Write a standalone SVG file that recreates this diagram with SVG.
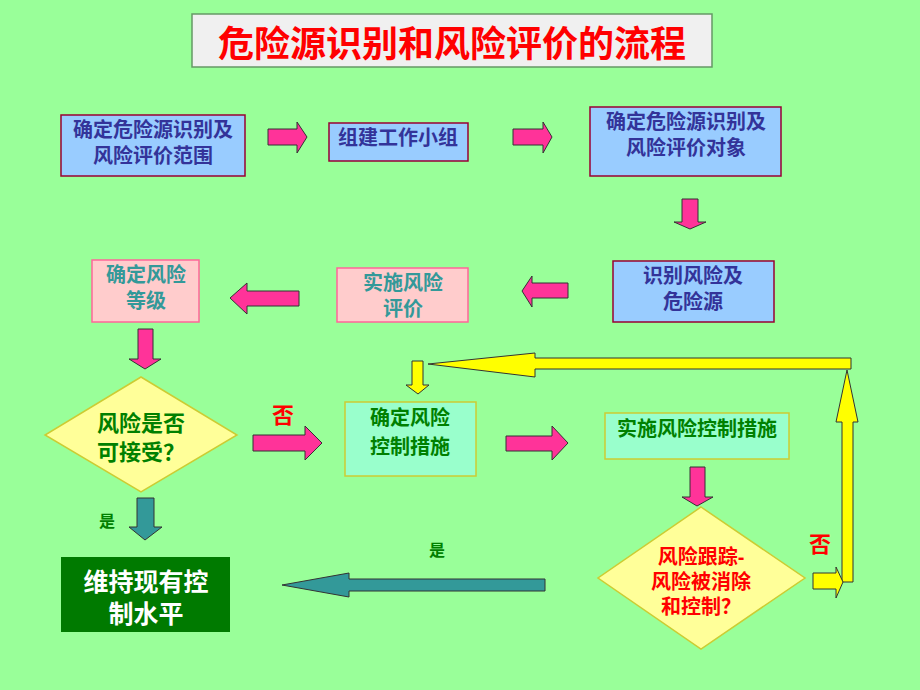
<svg xmlns="http://www.w3.org/2000/svg" width="920" height="690" viewBox="0 0 920 690">
<style>
text{font-family:"Liberation Sans","Noto Sans CJK SC",sans-serif;font-weight:bold;text-anchor:middle;dominant-baseline:central}
.blue{fill:#99ccff;stroke:#990033;stroke-width:1.5}
.pinkbox{fill:#ffcccc;stroke:#ff6699;stroke-width:1.5}
.mint{fill:#99ffcc;stroke:#cccc33;stroke-width:1.5}
.dia{fill:#ffff99;stroke:#cccc33;stroke-width:1.5}
.pa{fill:#ff3399;stroke:#333333;stroke-width:1}
.ya{fill:#ffff00;stroke:#333333;stroke-width:1}
.ta{fill:#339999;stroke:#333333;stroke-width:1}
.tn{fill:#333399;font-size:20px}
.tt{fill:#339999;font-size:20px}
.tg{fill:#008000;font-size:20px}
.tr{fill:#ff0000;font-size:20px}
</style>
<rect x="0" y="0" width="920" height="690" fill="#99ff99"/>
<g id="title">
<rect x="192" y="14" width="520" height="53" fill="#f0f0f0" stroke="#669966" stroke-width="1.5"/>
<text x="452" y="44" style="fill:#ff0000;font-size:36px">危险源识别和风险评价的流程</text>
</g>
<g id="n1"><rect class="blue" x="61" y="115" width="184" height="61"/>
<text class="tn"><tspan x="153" y="130">确定危险源识别及</tspan><tspan x="153" y="156">风险评价范围</tspan></text></g>
<g id="n2"><rect class="blue" x="329" y="123" width="139" height="38"/>
<text class="tn" x="398" y="138">组建工作小组</text></g>
<g id="n3"><rect class="blue" x="590" y="107" width="191" height="69"/>
<text class="tn"><tspan x="686" y="122">确定危险源识别及</tspan><tspan x="686" y="148">风险评价对象</tspan></text></g>
<g id="n4"><rect class="blue" x="613" y="261" width="161" height="61"/>
<text class="tn"><tspan x="693" y="276">识别风险及</tspan><tspan x="693" y="302">危险源</tspan></text></g>
<g id="n5"><rect class="pinkbox" x="337" y="268" width="131" height="54"/>
<text class="tt"><tspan x="403" y="283">实施风险</tspan><tspan x="403" y="309">评价</tspan></text></g>
<g id="n6"><rect class="pinkbox" x="92" y="260" width="107" height="62"/>
<text class="tt"><tspan x="146" y="275">确定风险</tspan><tspan x="146" y="301">等级</tspan></text></g>
<g id="n7"><polygon class="dia" points="141,377 237,435 141,492 45,435"/>
<text class="tg" style="font-size:22px"><tspan x="141" y="423">风险是否</tspan><tspan x="141" y="452">可接受？</tspan></text></g>
<g id="n8"><rect class="mint" x="345" y="402" width="131" height="74"/>
<text class="tg"><tspan x="410" y="418">确定风险</tspan><tspan x="410" y="447">控制措施</tspan></text></g>
<g id="n9"><rect class="mint" x="605" y="413" width="184" height="46"/>
<text class="tg" x="697" y="429">实施风险控制措施</text></g>
<g id="n10"><polygon class="dia" points="701,507 805,578 701,649 598,578"/>
<text class="tr"><tspan x="701" y="557">风险跟踪-</tspan><tspan x="701" y="582">风险被消除</tspan><tspan x="701" y="607">和控制？</tspan></text></g>
<g id="n11"><rect x="61" y="557" width="169" height="75" fill="#007a00"/>
<text style="fill:#ffffff;font-size:25px"><tspan x="146" y="582">维持现有控</tspan><tspan x="146" y="614">制水平</tspan></text></g>
<g id="connectors">
<polygon class="pa" points="268,129 297,129 297,122 307,137 297,153 297,145 268,145"/>
<polygon class="pa" points="513,129 543,129 543,122 552,137 543,153 543,145 513,145"/>
<polygon class="pa" points="682,199 698,199 698,222 706,222 690,229 674,222 682,222"/>
<polygon class="pa" points="568,283 532,283 532,276 522,291 532,307 532,298 568,298"/>
<polygon class="pa" points="299,291 247,291 247,283 230,298 247,314 247,306 299,306"/>
<polygon class="pa" points="138,329 153,329 153,359 161,359 145,369 129,359 138,359"/>
<polygon class="pa" points="253,435 305,435 305,426 322,443 305,460 305,451 253,451"/>
<polygon class="pa" points="506,436 552,436 552,426 568,443 552,460 552,451 506,451"/>
<polygon class="pa" points="690,467 705,467 705,497 713,497 697,506 682,497 690,497"/>
<polygon class="ya" points="851,358 851,369 535,369 535,377 428,364 535,353 535,358"/>
<polygon class="ya" points="412,361 423,361 423,385 429,385 418,394 406,385 412,385"/>
<polygon class="ya" points="842,582 842,422 836,422 847,370 858,422 853,422 853,582"/>
<polygon class="ya" points="813,573 836,573 836,567 843,582 836,598 836,589 813,589"/>
<polygon class="ta" points="137,498 154,498 154,527 162,527 145,540 129,527 137,527"/>
<polygon class="ta" points="545,579 545,591 349,591 349,597 282,585 349,573 349,579"/>
<text class="tr" x="283" y="415" style="font-size:22px">否</text>
<text class="tr" x="820" y="544" style="font-size:22px">否</text>
<text class="tg" x="107" y="521" style="font-size:16px">是</text>
<text class="tg" x="437" y="550" style="font-size:16px">是</text>
</g>
</svg>
